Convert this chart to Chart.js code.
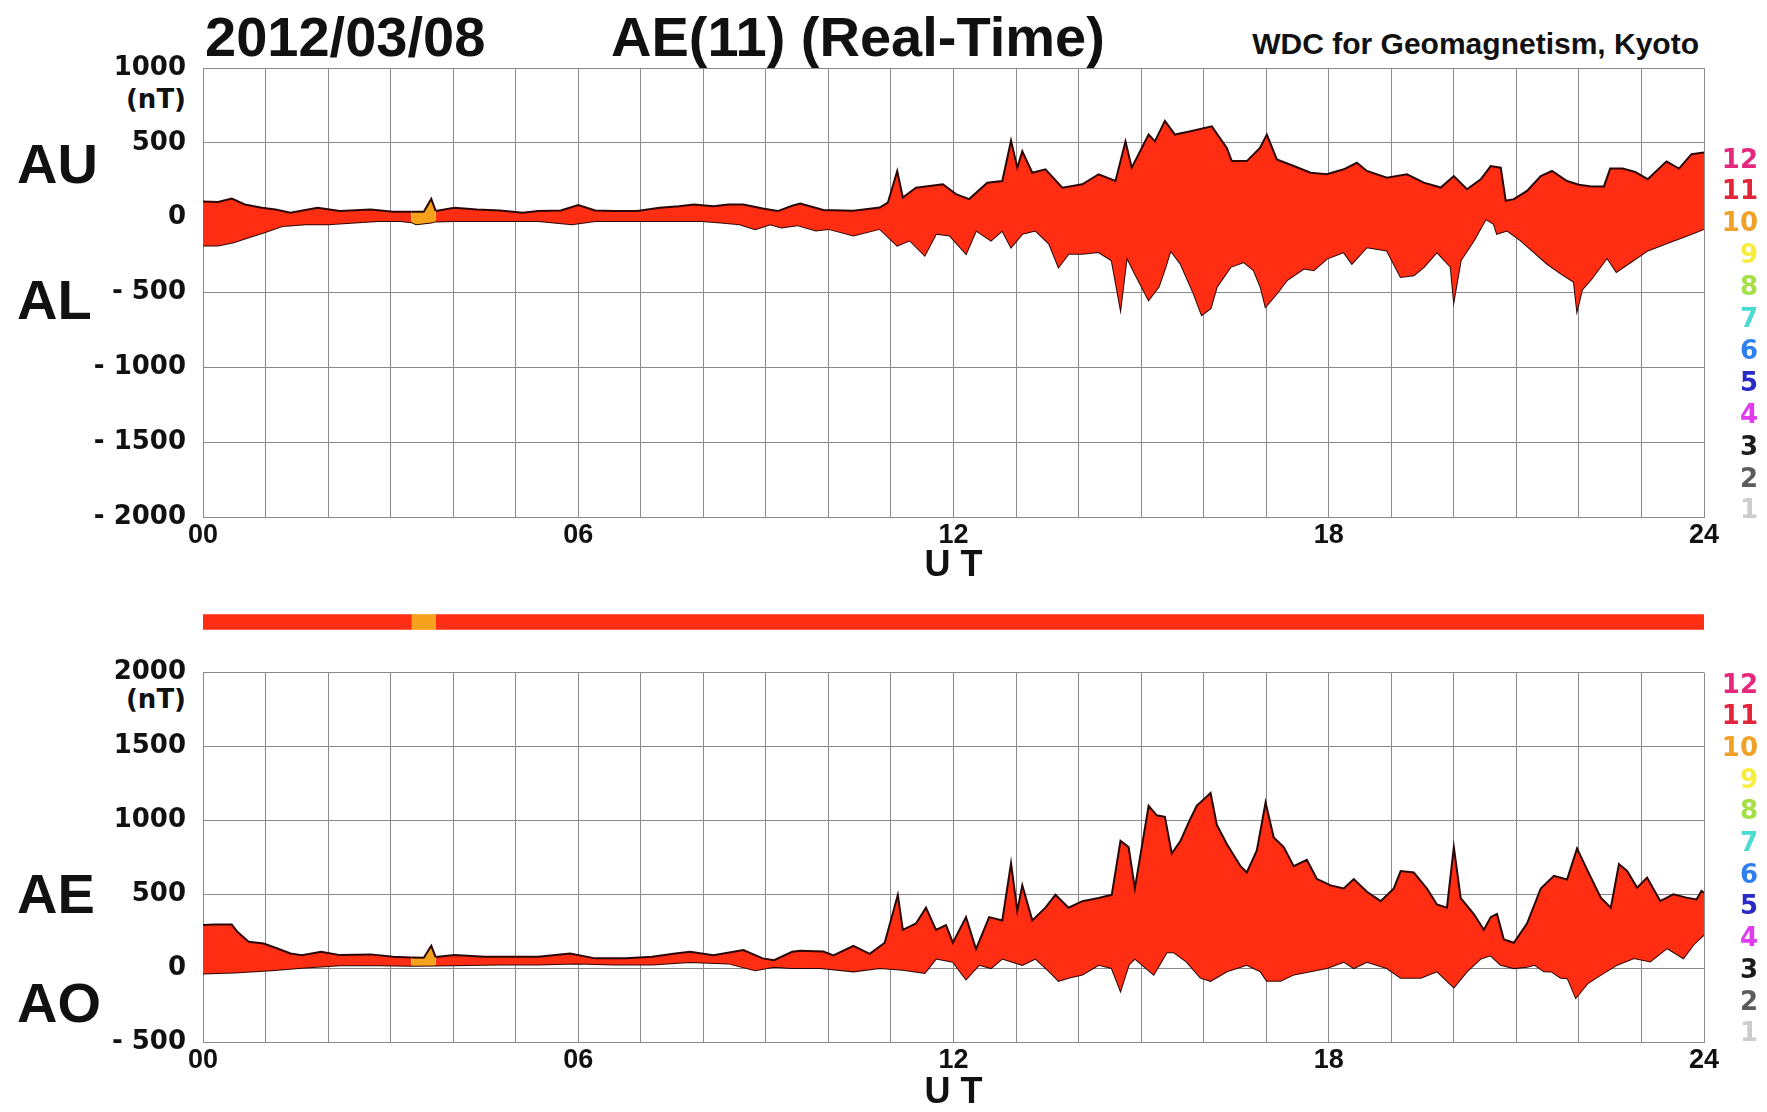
<!DOCTYPE html>
<html>
<head>
<meta charset="utf-8">
<script src="https://cdn.jsdelivr.net/npm/chart.js@4.4.0/dist/chart.umd.min.js"></script>
<style>
body{margin:0;background:#fff;width:1767px;height:1112px;position:relative;overflow:hidden;font-family:"Liberation Sans",Arial,sans-serif;font-weight:bold;color:#111;}
canvas{position:absolute;left:0;}
.t{position:absolute;white-space:nowrap;line-height:1;}
.d{font-family:"DejaVu Sans",sans-serif;font-size:26px;}
</style>
</head>
<body>
<div class="t" style="left:205px;top:9px;font-size:56px">2012/03/08</div>
<div class="t" style="left:611px;top:9px;font-size:56px">AE(11) (Real-Time)</div>
<div class="t" style="right:68px;top:29px;font-size:30px">WDC for Geomagnetism, Kyoto</div>
<div class="t" style="left:17px;top:136px;font-size:56px">AU</div>
<div class="t" style="left:17px;top:272px;font-size:56px">AL</div>
<div class="t" style="left:17px;top:866px;font-size:56px">AE</div>
<div class="t" style="left:17px;top:975px;font-size:56px">AO</div>
<div class="t d" style="right:1581px;top:86px">(nT)</div>
<div class="t d" style="right:1581px;top:686px">(nT)</div>

<canvas id="topChart" width="1767" height="600" style="top:0"></canvas>
<canvas id="barChart" width="1767" height="40" style="top:602px"></canvas>
<canvas id="bottomChart" width="1767" height="472" style="top:640px"></canvas>

<script>
// AU / AL (upper panel), hours UT and nT
var auHours = [0, 0.24, 0.46, 0.67, 0.94, 1.16, 1.4, 1.83, 2.19, 2.68, 3.04, 3.33, 3.53, 3.65, 3.72, 4.02, 4.38, 4.75, 5.11, 5.36, 5.72, 6.0, 6.27, 6.57, 6.94, 7.3, 7.61, 7.85, 8.16, 8.4, 8.64, 8.95, 9.19, 9.42, 9.55, 9.92, 10.4, 10.82, 10.95, 11.1, 11.19, 11.4, 11.83, 12.04, 12.25, 12.54, 12.78, 12.92, 13.02, 13.1, 13.26, 13.47, 13.74, 14.06, 14.32, 14.59, 14.75, 14.85, 15.12, 15.22, 15.38, 15.54, 15.79, 16.13, 16.37, 16.45, 16.69, 16.9, 17.01, 17.17, 17.44, 17.71, 17.97, 18.24, 18.45, 18.61, 18.93, 19.25, 19.52, 19.79, 20.0, 20.21, 20.43, 20.59, 20.75, 20.83, 20.96, 21.17, 21.39, 21.57, 21.81, 22.0, 22.2, 22.4, 22.5, 22.7, 22.9, 23.1, 23.4, 23.6, 23.8, 24];
var auValues = [108, 105, 128, 88, 66, 55, 33, 66, 44, 55, 39, 39, 39, 125, 45, 66, 55, 48, 33, 44, 48, 85, 48, 44, 44, 66, 77, 88, 77, 88, 88, 61, 44, 80, 95, 51, 46, 68, 100, 312, 135, 200, 223, 157, 124, 234, 245, 515, 334, 444, 300, 323, 200, 223, 290, 245, 510, 334, 555, 510, 647, 555, 577, 610, 466, 378, 378, 466, 555, 389, 345, 300, 290, 323, 367, 312, 267, 290, 234, 201, 278, 190, 256, 345, 334, 113, 124, 179, 278, 312, 245, 220, 209, 209, 328, 328, 305, 257, 376, 328, 424, 435];

var alHours = [0, 0.24, 0.49, 0.73, 0.97, 1.28, 1.64, 2.0, 2.43, 2.8, 3.16, 3.33, 3.41, 3.65, 3.72, 4.02, 4.5, 4.93, 5.36, 5.9, 6.27, 6.7, 7.18, 7.55, 7.97, 8.28, 8.58, 8.83, 9.07, 9.25, 9.5, 9.8, 10.0, 10.4, 10.82, 11.1, 11.3, 11.54, 11.72, 11.94, 12.2, 12.36, 12.6, 12.78, 12.92, 13.1, 13.31, 13.53, 13.68, 13.84, 14.06, 14.32, 14.53, 14.67, 14.77, 14.9, 15.12, 15.28, 15.39, 15.47, 15.63, 15.84, 15.97, 16.11, 16.21, 16.43, 16.64, 16.8, 16.91, 16.99, 17.17, 17.33, 17.6, 17.76, 17.97, 18.24, 18.37, 18.61, 18.93, 19.15, 19.36, 19.52, 19.73, 19.95, 20.0, 20.11, 20.32, 20.51, 20.64, 20.69, 20.85, 21.07, 21.28, 21.49, 21.71, 21.92, 21.97, 22.05, 22.2, 22.45, 22.6, 22.85, 23.1, 23.4, 23.7, 24];
var alValues = [-186, -186, -164, -131, -99, -55, -44, -44, -33, -22, -22, -30, -44, -33, -25, -22, -22, -22, -22, -44, -22, -22, -22, -22, -22, -33, -44, -77, -44, -66, -50, -86, -75, -119, -75, -186, -152, -252, -108, -119, -241, -86, -152, -86, -197, -108, -86, -175, -329, -241, -241, -230, -285, -606, -263, -373, -550, -462, -329, -219, -307, -506, -650, -606, -462, -329, -296, -351, -462, -595, -506, -418, -340, -351, -274, -230, -307, -197, -219, -396, -385, -329, -230, -329, -550, -285, -152, -9, -42, -108, -86, -152, -230, -307, -373, -429, -617, -480, -409, -267, -362, -290, -219, -171, -124, -76];

// AE / AO (lower panel)
var aeHours = [0, 0.18, 0.46, 0.55, 0.73, 0.97, 1.19, 1.4, 1.58, 1.89, 2.19, 2.68, 3.04, 3.33, 3.53, 3.65, 3.72, 4.02, 4.5, 4.99, 5.36, 5.87, 6.27, 6.76, 7.18, 7.55, 7.79, 8.16, 8.64, 8.95, 9.13, 9.42, 9.55, 9.92, 10.08, 10.4, 10.66, 10.9, 11.11, 11.19, 11.4, 11.56, 11.72, 11.88, 11.99, 12.2, 12.36, 12.57, 12.78, 12.92, 13.02, 13.1, 13.26, 13.47, 13.63, 13.84, 14.06, 14.32, 14.53, 14.67, 14.8, 14.9, 15.12, 15.25, 15.38, 15.49, 15.63, 15.79, 15.89, 16.0, 16.11, 16.21, 16.37, 16.59, 16.69, 16.85, 16.99, 17.12, 17.28, 17.44, 17.65, 17.81, 18.03, 18.24, 18.4, 18.61, 18.83, 19.04, 19.15, 19.36, 19.57, 19.73, 19.89, 20.0, 20.11, 20.32, 20.48, 20.59, 20.69, 20.8, 20.96, 21.17, 21.39, 21.6, 21.81, 21.97, 22.14, 22.35, 22.51, 22.64, 22.77, 22.93, 23.09, 23.3, 23.51, 23.72, 23.88, 23.96, 24];
var aeValues = [292, 296, 296, 246, 179, 167, 133, 99, 88, 111, 88, 93, 77, 72, 70, 151, 75, 88, 77, 77, 77, 99, 66, 66, 77, 99, 111, 88, 122, 66, 54, 111, 118, 112, 86, 151, 97, 172, 496, 259, 302, 409, 259, 291, 172, 345, 129, 345, 323, 711, 388, 560, 323, 409, 496, 409, 453, 474, 496, 862, 819, 539, 1099, 1034, 1024, 776, 862, 1013, 1099, 1142, 1185, 970, 840, 690, 647, 797, 1121, 884, 819, 690, 733, 603, 560, 539, 603, 517, 453, 539, 657, 647, 539, 431, 409, 819, 474, 366, 259, 345, 366, 194, 172, 302, 539, 625, 600, 810, 658, 477, 409, 704, 658, 545, 613, 454, 499, 477, 465, 522, 511];

var aoHours = [0, 0.5, 1.1, 1.58, 2.19, 2.8, 3.33, 3.41, 3.72, 4.02, 4.75, 5.36, 5.97, 6.57, 7.18, 7.79, 8.4, 8.83, 9.13, 9.4, 9.87, 10.4, 10.82, 11.19, 11.54, 11.72, 11.99, 12.2, 12.41, 12.6, 12.78, 12.94, 13.1, 13.31, 13.53, 13.68, 13.84, 14.06, 14.32, 14.53, 14.67, 14.8, 14.9, 15.2, 15.41, 15.52, 15.73, 15.95, 16.11, 16.37, 16.69, 16.91, 17.01, 17.23, 17.44, 17.71, 17.97, 18.24, 18.4, 18.61, 18.93, 19.15, 19.47, 19.73, 20.0, 20.21, 20.43, 20.59, 20.75, 20.96, 21.17, 21.29, 21.44, 21.56, 21.71, 21.82, 21.95, 22.14, 22.35, 22.61, 22.88, 23.14, 23.41, 23.67, 23.83, 24];
var aoValues = [-36, -29, -14, 2, 20, 20, 16, 16, 18, 20, 25, 25, 32, 25, 25, 41, 32, -14, 9, 0, 0, -22, 0, -11, -32, 65, 43, -75, 22, 0, 65, 43, 22, 65, -22, -86, -65, -43, 22, 0, -151, 22, 65, -43, 108, 108, 43, -65, -86, -22, 22, -22, -86, -86, -43, -22, 0, 43, 0, 43, 0, -65, -65, -22, -129, -22, 65, 86, 22, 0, 10, 23, -22, -23, -65, -68, -200, -102, -45, 23, 68, 45, 136, 68, 159, 227];

// station-count strip above the lower panel
var stripFrom = [0, 3.33, 3.72];
var stripTo = [3.33, 3.72, 24];
var stripColors = ['#ff2d12', '#f6a21c', '#ff2d12'];

var hourTicks = ['00', '06', '12', '18', '24'];
var levelNames = ['12', '11', '10', '9', '8', '7', '6', '5', '4', '3', '2', '1'];
var levelColors = ['#e5287e', '#e3243a', '#f0a126', '#f7ee3c', '#a6df46', '#4adbd2', '#2f7fee', '#2a2ac6', '#df3cef', '#1c1c1c', '#5c5c5c', '#cccccc'];

var fillRed = '#ff2d12', fillOrange = '#f6a21c', orangeFrom = 3.33, orangeTo = 3.72;
var gridColor = '#8a8a8a';

for (var k = 0; k < levelNames.length; k++) {
    [158 + 31.9 * k, 683 + 31.7 * k].forEach(function(c){
        var el = document.createElement('div');
        el.className = 't d';
        el.style.right = '9px';
        el.style.top = (c - 12.5) + 'px';
        el.style.color = levelColors[k];
        el.textContent = levelNames[k];
        document.body.appendChild(el);
    });
}

function pts(hours, values){
    return hours.map(function(h, i){ return {x: h, y: values[i]}; });
}

function yLabel(v){
    return v < 0 ? '- ' + (-v) : '' + v;
}

function panel(canvasId, upH, upV, loH, loV, yMin, yMax, topPad, xHeight, titlePad){
    var line = {borderColor: '#2c0706', borderWidth: 2, pointRadius: 0, tension: 0};
    return new Chart(document.getElementById(canvasId), {
        type: 'line',
        data: {
            datasets: [
                Object.assign({data: pts(upH, upV), fill: '+1', backgroundColor: fillRed,
                    segment: {backgroundColor: function(ctx){
                        return (ctx.p0.parsed.x >= orangeFrom && ctx.p1.parsed.x <= orangeTo) ? fillOrange : fillRed;
                    }}}, line),
                Object.assign({data: pts(loH, loV), fill: false}, line)
            ]
        },
        options: {
            responsive: false,
            animation: false,
            parsing: false,
            layout: {padding: {left: 0, right: 63, top: topPad, bottom: 0}},
            plugins: {legend: {display: false}, tooltip: {enabled: false}},
            scales: {
                x: {
                    type: 'linear', min: 0, max: 24,
                    grid: {color: gridColor, lineWidth: 1, drawTicks: false},
                    border: {color: gridColor},
                    ticks: {stepSize: 1, autoSkip: false, maxRotation: 0, padding: 2, color: '#111',
                        font: {family: 'Liberation Sans', weight: 'bold', size: 27},
                        callback: function(v){ return v % 6 === 0 ? hourTicks[v / 6] : ''; }},
                    title: {display: true, text: 'U T', color: '#111',
                        font: {family: 'Liberation Sans', weight: 'bold', size: 36, lineHeight: 1},
                        padding: {top: 0, bottom: titlePad}},
                    afterFit: function(s){ s.height = xHeight; }
                },
                y: {
                    min: yMin, max: yMax,
                    grid: {color: gridColor, lineWidth: 1, drawTicks: false},
                    border: {color: gridColor},
                    ticks: {stepSize: 500, padding: 17, color: '#111',
                        font: {family: 'DejaVu Sans', weight: 'bold', size: 26},
                        callback: yLabel},
                    afterFit: function(s){ s.width = 203; }
                }
            }
        }
    });
}

panel('topChart', auHours, auValues, alHours, alValues, -2000, 1000, 68, 83, 16);
panel('bottomChart', aeHours, aeValues, aoHours, aoValues, -500, 2000, 27, 70, 1);

new Chart(document.getElementById('barChart'), {
    type: 'bar',
    data: {
        labels: ['n'],
        datasets: stripFrom.map(function(f, i){
            return {data: [[f, stripTo[i]]], backgroundColor: stripColors[i], grouped: false, barThickness: 15, borderWidth: 0};
        })
    },
    options: {
        indexAxis: 'y',
        responsive: false,
        animation: false,
        layout: {padding: {left: 203, right: 63, top: 0, bottom: 0}},
        plugins: {legend: {display: false}, tooltip: {enabled: false}},
        scales: {x: {type: 'linear', display: false, min: 0, max: 24}, y: {display: false}}
    }
});
</script>
</body>
</html>
